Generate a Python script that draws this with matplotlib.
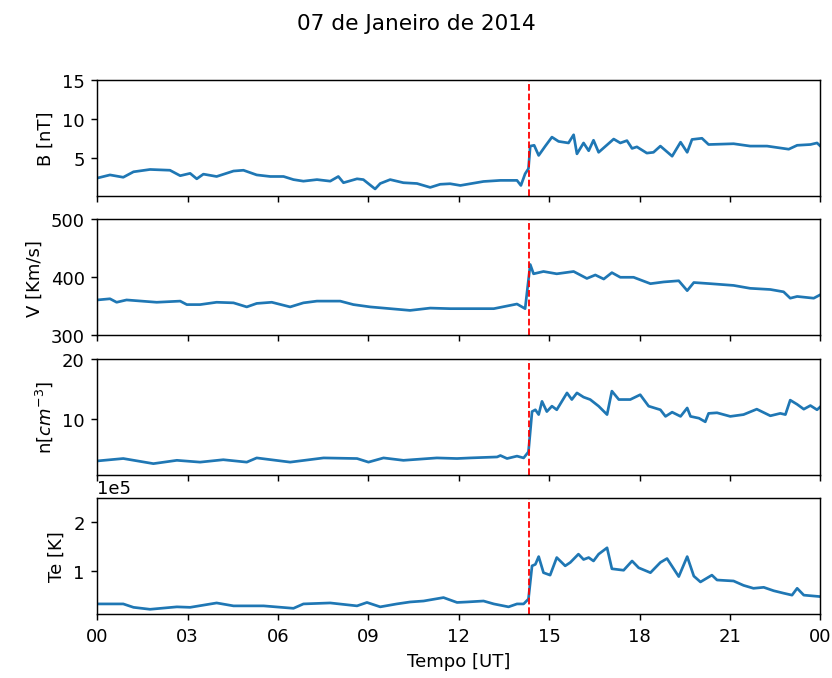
import numpy as np
import matplotlib
matplotlib.use('Agg')
import matplotlib.pyplot as plt

# horas (UT) e valores
t_B = [0, 0.42, 0.86, 1.2, 1.75, 2.41, 2.75, 3.08, 3.3, 3.52, 3.96, 4.52, 4.85, 5.29,
       5.74, 6.18, 6.51, 6.84, 7.29, 7.73, 8.0, 8.17, 8.62, 8.83, 9.22, 9.39, 9.72,
       10.16, 10.61, 11.05, 11.38, 11.71, 12.05, 12.38, 12.82, 13.38, 13.93, 14.06,
       14.2, 14.31, 14.37, 14.5, 14.65, 14.87, 15.09, 15.31, 15.64, 15.81, 15.92,
       16.14, 16.31, 16.47, 16.64, 17.14, 17.36, 17.58, 17.75, 17.91, 18.24, 18.46,
       18.69, 19.08, 19.36, 19.58, 19.74, 20.07, 20.29, 21.12, 21.67, 22.23, 22.95,
       23.23, 23.67, 23.89, 24]
B = [2.4, 2.8, 2.5, 3.2, 3.5, 3.4, 2.7, 3.0, 2.3, 2.9, 2.6, 3.3, 3.4, 2.8,
     2.6, 2.6, 2.2, 2.0, 2.2, 2.0, 2.6, 1.8, 2.3, 2.2, 1.0, 1.7, 2.2,
     1.8, 1.7, 1.2, 1.6, 1.67, 1.45, 1.67, 1.96, 2.1, 2.1, 1.45,
     2.95, 3.6, 6.5, 6.6, 5.3, 6.5, 7.65, 7.1, 6.9, 7.95, 5.5,
     6.9, 5.9, 7.25, 5.7, 7.4, 6.9, 7.2, 6.2, 6.4, 5.6, 5.7,
     6.5, 5.2, 7.0, 5.7, 7.35, 7.5, 6.7, 6.8, 6.5, 6.5, 6.1,
     6.6, 6.7, 6.9, 6.5]

t_V = [0, 0.42, 0.64, 0.97, 1.97, 2.75, 2.97, 3.41, 3.96, 4.52, 4.96, 5.29, 5.79,
       6.4, 6.84, 7.29, 8.06, 8.5, 9.06, 9.72, 10.38, 11.05, 11.71, 12.38, 13.16,
       13.93, 14.2, 14.37, 14.48, 14.81, 15.25, 15.81, 16.25, 16.53, 16.81, 17.08,
       17.36, 17.8, 18.36, 18.8, 19.3, 19.58, 19.8, 20.35, 21.12, 21.67, 22.34,
       22.78, 23.0, 23.23, 23.78, 24]
V = [361, 363, 357, 361, 357, 359, 353, 353, 357, 356, 349, 355, 357,
     349, 356, 359, 359, 353, 349, 346, 343, 347, 346, 346, 346,
     354, 346, 422, 406, 410, 406, 410, 398, 404, 397, 408,
     400, 400, 389, 392, 394, 377, 391, 389, 386, 381, 379,
     375, 364, 367, 364, 370]

t_n = [0, 0.86, 1.86, 2.64, 3.41, 4.18, 4.96, 5.29, 6.4, 7.51, 8.62, 9.0, 9.5,
       10.16, 11.27, 11.94, 12.38, 13.27, 13.38, 13.6, 13.93, 14.15, 14.31, 14.43,
       14.54, 14.65, 14.76, 14.92, 15.09, 15.25, 15.59, 15.75, 15.92, 16.14, 16.36,
       16.64, 16.92, 17.08, 17.31, 17.69, 18.02, 18.3, 18.69, 18.86, 19.08, 19.36,
       19.58, 19.69, 19.97, 20.18, 20.29, 20.57, 21.01, 21.45, 21.89, 22.34, 22.67,
       22.84, 23.0, 23.23, 23.45, 23.67, 23.89, 24]
n = [3.0, 3.4, 2.55, 3.1, 2.8, 3.2, 2.8, 3.5, 2.8, 3.5, 3.4, 2.8, 3.5,
     3.1, 3.5, 3.4, 3.5, 3.66, 3.9, 3.4, 3.8, 3.5, 4.5, 11.2,
     11.5, 10.7, 12.9, 11.2, 12.1, 11.5, 14.3, 13.2, 14.3, 13.6, 13.2,
     12.1, 10.7, 14.6, 13.2, 13.2, 14.0, 12.1, 11.5, 10.4, 11.1, 10.4,
     11.8, 10.4, 10.1, 9.5, 10.9, 11.0, 10.4, 10.7, 11.6, 10.5, 10.9,
     10.7, 13.1, 12.4, 11.6, 12.2, 11.5, 12.0]

t_Te = [0, 0.86, 1.2, 1.75, 2.64, 3.08, 3.96, 4.52, 5.52, 6.51, 6.84, 7.73, 8.62,
        8.95, 9.39, 9.94, 10.38, 10.83, 11.49, 11.94, 12.27, 12.82, 13.16, 13.65,
        13.93, 14.15, 14.31, 14.43, 14.54, 14.65, 14.81, 15.03, 15.25, 15.53, 15.7,
        15.97, 16.14, 16.31, 16.47, 16.64, 16.92, 17.08, 17.47, 17.75, 17.97, 18.36,
        18.69, 18.91, 19.3, 19.58, 19.8, 20.02, 20.4, 20.57, 21.12, 21.45, 21.78,
        22.12, 22.45, 22.78, 23.06, 23.23, 23.45, 24]
Te = [0.33, 0.33, 0.26, 0.22, 0.27, 0.26, 0.35, 0.29, 0.29, 0.24, 0.33, 0.35, 0.29,
      0.36, 0.27, 0.33, 0.37, 0.39, 0.46, 0.36, 0.37, 0.39, 0.33, 0.27,
      0.33, 0.33, 0.43, 1.11, 1.14, 1.3, 0.97, 0.92, 1.28, 1.11, 1.18,
      1.35, 1.24, 1.28, 1.21, 1.35, 1.48, 1.05, 1.02, 1.21, 1.07, 0.97,
      1.18, 1.26, 0.89, 1.3, 0.9, 0.78, 0.92, 0.82, 0.80, 0.71, 0.65,
      0.67, 0.6, 0.55, 0.51, 0.65, 0.51, 0.48]
Te = [v * 1e5 for v in Te]

choque = 14.34
xticks = [0, 3, 6, 9, 12, 15, 18, 21, 24]
xlabels = ['00', '03', '06', '09', '12', '15', '18', '21', '00']

fig, axs = plt.subplots(4, 1, sharex=True, figsize=(6.4, 5.223), dpi=130)
fig.subplots_adjust(left=0.117, right=0.986, bottom=0.094, top=0.881, hspace=0.2)
fig.suptitle('07 de Janeiro de 2014')

series = [(t_B, B, 'B [nT]', (0.1, 15)),
          (t_V, V, 'V [Km/s]', (300, 500)),
          (t_n, n, 'n[$cm^{-3}$]', (0.7, 20)),
          (t_Te, Te, 'Te [K]', (0.12e5, 2.5e5))]

for ax, (t, y, lab, lim) in zip(axs, series):
    ax.plot(t, y, color='#1f77b4', lw=1.5)
    ax.axvline(choque, color='r', ls='--', lw=1)
    ax.set_ylabel(lab)
    ax.set_ylim(lim)

axs[0].set_yticks([5, 10, 15])
axs[1].set_yticks([300, 400, 500])
axs[2].set_yticks([10, 20])
axs[3].set_yticks([1e5, 2e5])
axs[3].ticklabel_format(axis='y', style='sci', scilimits=(0, 0))

axs[3].set_xlim(0, 24)
axs[3].set_xticks(xticks)
axs[3].set_xticklabels(xlabels)
axs[3].set_xlabel('Tempo [UT]')

fig.savefig('out.png', dpi=130)
